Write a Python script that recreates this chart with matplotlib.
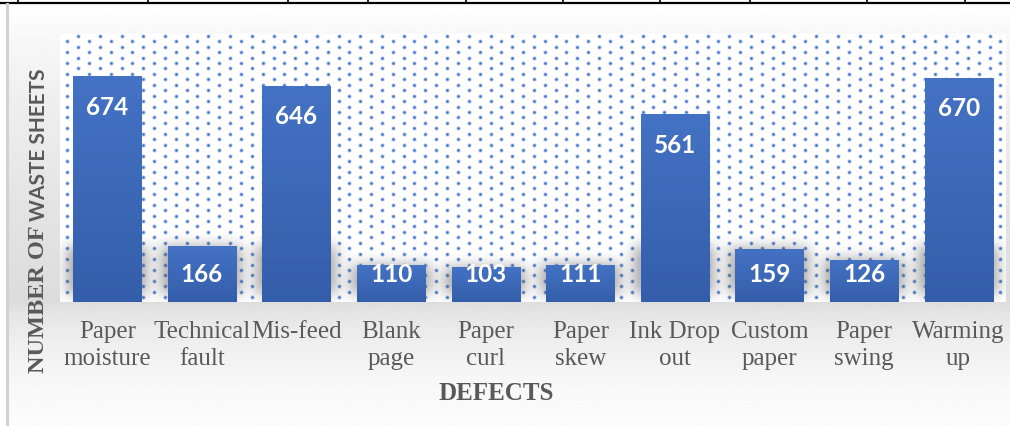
import numpy as np
import matplotlib
matplotlib.use("Agg")
import matplotlib.pyplot as plt

# ---- data -------------------------------------------------------------
categories = ["Paper\nmoisture", "Technical\nfault", "Mis-feed", "Blank\npage",
              "Paper\ncurl", "Paper\nskew", "Ink Drop\nout", "Custom\npaper",
              "Paper\nswing", "Warming\nup"]
waste_sheets = [674, 166, 646, 110, 103, 111, 561, 159, 126, 670]
y_max = 800

# ---- figure geometry (pixels) -------------------------------------------
W, H, DPI = 1010, 427, 100
ax_left, ax_right, ax_top, ax_bottom = 60, 1006, 35, 303

fig = plt.figure(figsize=(W / DPI, H / DPI), dpi=DPI)
fig.patch.set_facecolor("white")

# background panel with a soft vertical grey gradient
bg = fig.add_axes([0, 0, 1, 1], zorder=-5)
bg.set_xlim(0, W)
bg.set_ylim(H, 0)
bg.axis("off")
ys = np.arange(H)
prof_y = [0, 5, 30, 100, 200, 300, 312, 340, 380, 427]
prof_v = [255, 254, 248, 238, 228, 220, 229, 238, 247, 252]
col = np.interp(ys, prof_y, prof_v) / 255.0
grad = np.repeat(col[:, None], 2, axis=1)
bg.imshow(grad, cmap="gray", vmin=0, vmax=1, extent=(8, W, H, 5),
          aspect="auto", interpolation="bilinear")
# frame lines along the top and left
bg.plot([0, W], [4, 4], color="black", lw=1.6, solid_capstyle="butt")
for tx in [18, 148, 288, 368, 466, 563, 660, 750, 867, 965]:
    bg.plot([tx, tx], [0, 4], color="black", lw=1.2)
bg.plot([7, 7], [5, H], color="#d2d2d2", lw=2.2)

# ---- main axes ------------------------------------------------------------
ax = fig.add_axes([ax_left / W, 1 - ax_bottom / H,
                   (ax_right - ax_left) / W, (ax_bottom - ax_top) / H])
ax.set_facecolor("white")
ax.set_xlim(-0.5, len(categories) - 0.5)
ax.set_ylim(0, y_max)
for s in ax.spines.values():
    s.set_visible(False)

aw = ax_right - ax_left
ah = ax_bottom - ax_top

# dotted fill pattern of the plot area
dx, dy = 21.7, 5.45
pts_x, pts_y = [], []
row = 0
yy = 36.7
while yy < ax_bottom:
    x0 = 78.3 if row % 2 == 0 else 67.3
    xx = x0
    while xx < ax_right:
        pts_x.append((xx - ax_left) / aw)
        pts_y.append(1 - (yy - ax_top) / ah)
        xx += dx
    yy += dy
    row += 1
ax.scatter(pts_x, pts_y, s=10, color="#7ea2e0", alpha=0.45,
           linewidths=0, transform=ax.transAxes, zorder=1)
ax.scatter(pts_x, pts_y, s=3.6, color="#3f6fc8", alpha=0.95,
           linewidths=0, transform=ax.transAxes, zorder=1)

# soft shadows beside the feet of the bars
bar_w = 0.72
unit_px = ah / y_max
slot_px = aw / len(categories)
shadow = np.zeros((ah, aw))
for i, v in enumerate(waste_sheets):
    cx = (i + 0.5) * slot_px
    half = bar_w * slot_px / 2 + 6
    top = max(ah - min(v * unit_px, 56), 0)
    c0, c1 = int(cx - half), int(cx + half)
    shadow[int(top):ah - 8, max(c0, 0):min(c1, aw)] = 1.0
sig = 7.0
k = np.arange(-24, 25)
g = np.exp(-k ** 2 / (2 * sig ** 2))
g /= g.sum()
pad = np.pad(shadow, 30, mode="constant")
pad = np.apply_along_axis(lambda r: np.convolve(r, g, mode="same"), 1, pad)
pad = np.apply_along_axis(lambda c: np.convolve(c, g, mode="same"), 0, pad)
shadow = pad[30:-30, 30:-30]
rgba = np.zeros((ah, aw, 4))
rgba[..., :3] = 0.3
rgba[..., 3] = 0.5 * shadow
ax.imshow(rgba, extent=(0, 1, 0, 1), transform=ax.transAxes,
          aspect="auto", zorder=2, interpolation="bilinear")

# bars with a light-to-dark vertical gradient
x = np.arange(len(categories))
bars = ax.bar(x, waste_sheets, width=bar_w, color="#3f6dbd", zorder=3,
              linewidth=0)
ramp = np.linspace(0, 1, 64)[:, None]
top_c = np.array([68, 114, 196]) / 255
bot_c = np.array([52, 94, 170]) / 255
ramp_img = (top_c[None, None, :] * (1 - ramp[..., None])
            + bot_c[None, None, :] * ramp[..., None])
for b, v in zip(bars, waste_sheets):
    im = ax.imshow(ramp_img, extent=(b.get_x(), b.get_x() + b.get_width(), 0, v),
                   aspect="auto", zorder=4, interpolation="bilinear")
    im.set_clip_path(b)

# value labels inside the bar ends
label_drop = 30 / unit_px
label_floor = (ax_bottom - 275) / unit_px
for xi, v in zip(x, waste_sheets):
    ly = max(v - label_drop, label_floor)
    ax.text(xi, ly, f"{v}", ha="center", va="center", color="white",
            fontsize=17.5, fontweight="bold", family="Lato", zorder=6)

# category axis
ax.set_xticks(x)
ax.set_xticklabels(categories, family="Liberation Serif", fontsize=18,
                   color="#595959", linespacing=1.3)
ax.tick_params(axis="x", length=0, pad=13)
ax.set_yticks([])

# axis titles
fig.text(496.5 / W, 1 - 394 / H, "DEFECTS", ha="center", va="center",
         family="Liberation Serif", fontweight="bold", fontsize=18,
         color="#595959")

# vertical title: serif part from the bottom, sans part stacked above it
renderer = fig.canvas.get_renderer()
y_bottom_px, gap_px = 373, 4
t1 = fig.text(39 / W, 1 - y_bottom_px / H, "NUMBER OF", rotation=90,
              ha="center", va="bottom", family="Liberation Serif",
              fontweight="bold", fontsize=17.5, color="#595959")
ext1 = t1.get_window_extent(renderer)
t1_top_px = H - ext1.y1
fig.text(39 / W, 1 - (t1_top_px - gap_px) / H, "WASTE SHEETS",
         rotation=90, ha="center", va="bottom", family="Lato",
         fontweight="bold", fontsize=15, color="#595959")

fig.savefig("out.png", dpi=DPI, facecolor=fig.get_facecolor())
